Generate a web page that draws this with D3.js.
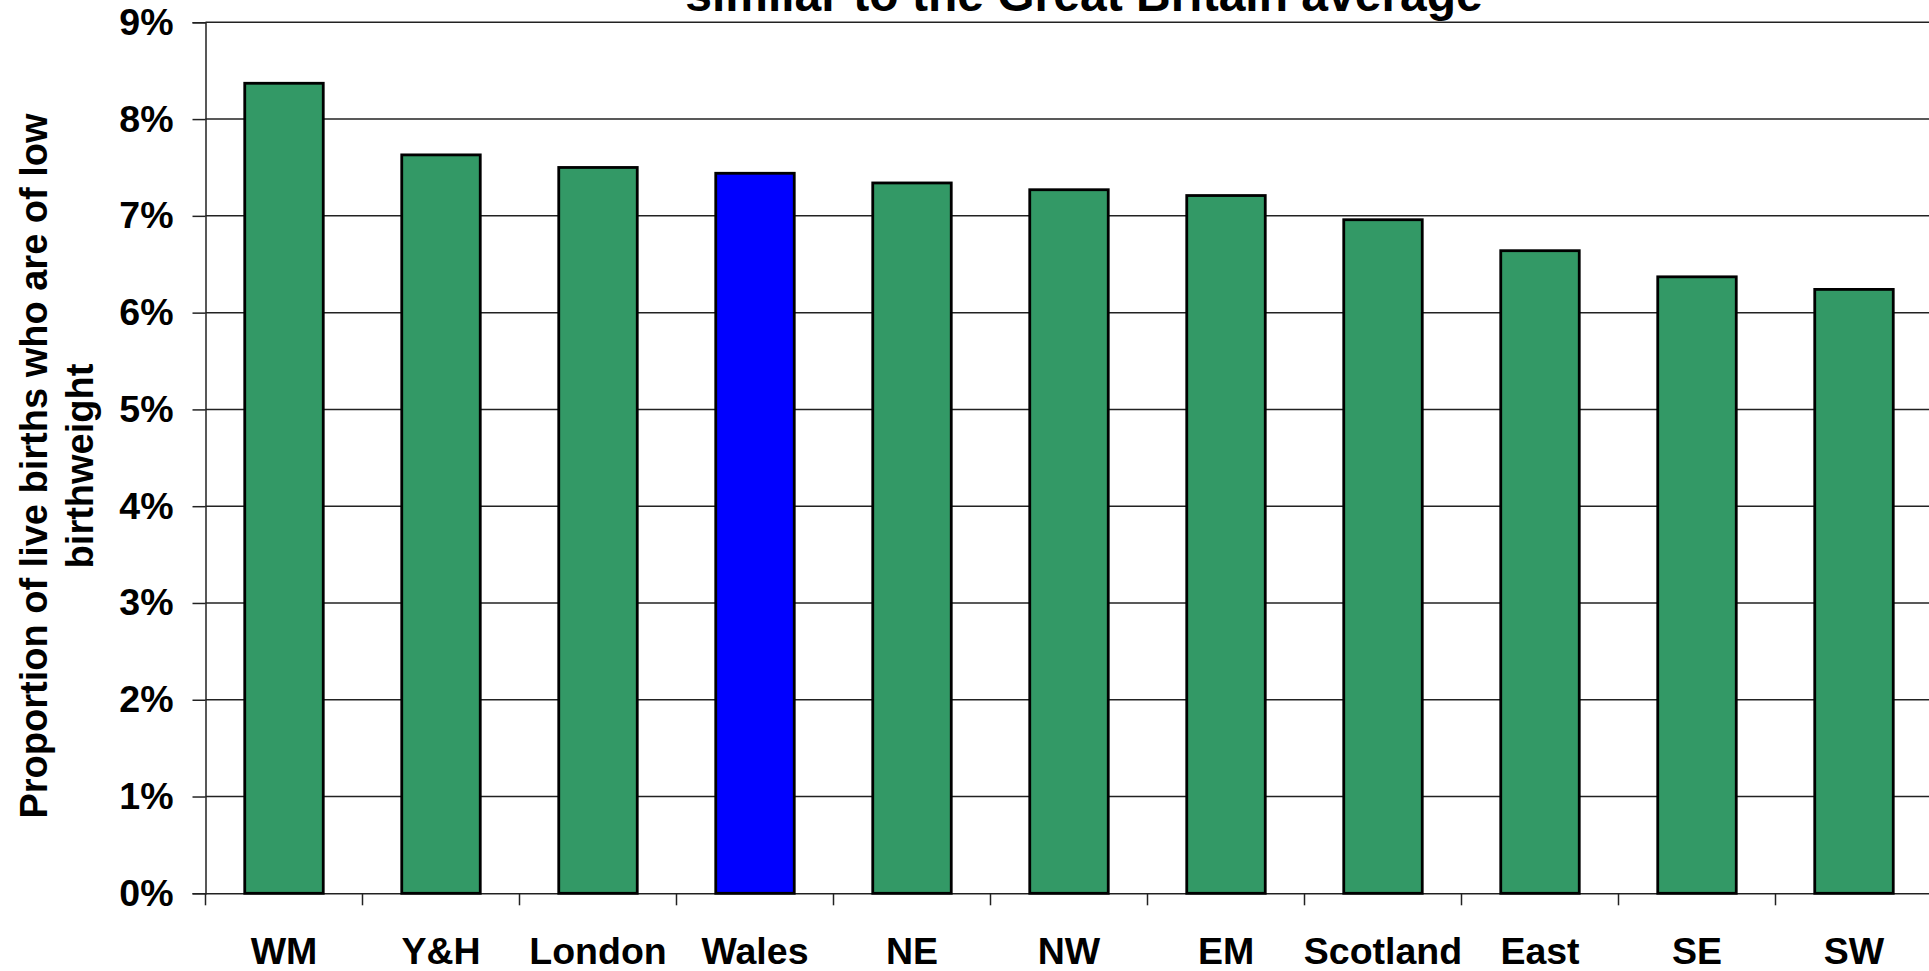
<!DOCTYPE html>
<html>
<head>
<meta charset="utf-8">
<script src="https://cdn.jsdelivr.net/npm/d3@7"></script>
<style>
  body { margin: 0; background: #fff; }
  text { font-family: "Liberation Sans", Arial, sans-serif; font-weight: bold; fill: #000; }
</style>
</head>
<body>
<div id="chart"></div>
<script>
// data
const regions = ['WM', 'Y&H', 'London', 'Wales', 'NE', 'NW', 'EM', 'Scotland', 'East', 'SE', 'SW'];
const lowBirthweight = [0.0837, 0.0763, 0.0750, 0.0744, 0.0734, 0.0727, 0.0721, 0.0696, 0.0664, 0.0637, 0.0624];
const highlight = ['Wales'];
const yTicks = [0, 0.01, 0.02, 0.03, 0.04, 0.05, 0.06, 0.07, 0.08, 0.09];

const svgWidth = 1929;
const svgHeight = 971;

const margin = { top: 22.3, right: -3.5, bottom: 77.7, left: 205.5 };
const width = svgWidth - margin.left - margin.right;
const height = svgHeight - margin.top - margin.bottom;

const svg = d3.select('#chart')
    .append('svg')
    .attr('width', svgWidth)
    .attr('height', svgHeight);

const chartGroup = svg.append('g')
    .attr('transform', `translate(${margin.left}, ${margin.top})`);

const xScale = d3.scaleBand()
    .domain(regions)
    .range([0, width])
    .paddingInner(0.5)
    .paddingOuter(0.25);

const yScale = d3.scaleLinear()
    .domain([0, 0.09])
    .range([height, 0]);

// gridlines
chartGroup.append('g')
    .selectAll('line')
    .data(yTicks.slice(1))
    .enter()
    .append('line')
    .attr('x1', 0)
    .attr('x2', width)
    .attr('y1', d => yScale(d))
    .attr('y2', d => yScale(d))
    .attr('stroke', '#222')
    .attr('stroke-width', 1.5);

// y axis
const leftAxis = d3.axisLeft(yScale)
    .tickValues(yTicks)
    .tickFormat(d3.format('.0%'))
    .tickSize(13)
    .tickPadding(19);

const yAxisG = chartGroup.append('g').call(leftAxis);
yAxisG.select('.domain').attr('stroke', '#222').attr('stroke-width', 1.5);
yAxisG.selectAll('.tick line').attr('stroke', '#222').attr('stroke-width', 1.5);
yAxisG.selectAll('.tick text')
    .style('font-size', '37.5px')
    .style('font-family', '"Liberation Sans", Arial, sans-serif')
    .style('font-weight', 'bold');

// x axis: ticks between categories
const bottomAxis = d3.axisBottom(xScale).tickSize(0).tickPadding(44);
const xAxisG = chartGroup.append('g')
    .attr('transform', `translate(0, ${height})`)
    .call(bottomAxis);
xAxisG.select('.domain').attr('stroke', '#222').attr('stroke-width', 1.5);
xAxisG.selectAll('.tick text')
    .style('font-size', '37.5px')
    .style('font-family', '"Liberation Sans", Arial, sans-serif')
    .style('font-weight', 'bold')
    .attr('dy', '0.71em');

xAxisG.selectAll('.sep')
    .data(regions)
    .enter()
    .append('line')
    .attr('x1', d => xScale(d) - xScale.step() * xScale.paddingOuter())
    .attr('x2', d => xScale(d) - xScale.step() * xScale.paddingOuter())
    .attr('y1', 0)
    .attr('y2', 12)
    .attr('stroke', '#222')
    .attr('stroke-width', 1.5);

// bars
chartGroup.selectAll('.bar')
    .data(regions)
    .enter()
    .append('rect')
    .attr('class', 'bar')
    .attr('x', d => xScale(d))
    .attr('y', (d, i) => yScale(lowBirthweight[i]))
    .attr('width', xScale.bandwidth())
    .attr('height', (d, i) => height - yScale(lowBirthweight[i]))
    .attr('fill', d => highlight.includes(d) ? '#0000ff' : '#339966')
    .attr('stroke', '#000')
    .attr('stroke-width', 2.8);

// title (only the bottom line is visible)
svg.append('text')
    .attr('x', 1084)
    .attr('y', 11)
    .attr('text-anchor', 'middle')
    .style('font-size', '48px')
    .text('similar to the Great Britain average');

// y axis label
const yLabel = svg.append('text')
    .attr('transform', 'translate(0, 466) rotate(-90)')
    .attr('text-anchor', 'middle')
    .style('font-size', '38px');
yLabel.append('tspan').attr('x', 0).attr('y', 47).text('Proportion of live births who are of low');
yLabel.append('tspan').attr('x', 0).attr('y', 93).text('birthweight');
</script>
</body>
</html>
